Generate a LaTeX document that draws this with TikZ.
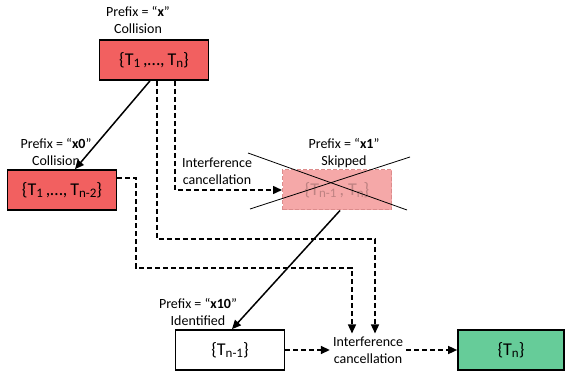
\documentclass[tikz,border=0pt]{standalone}
\usepackage{fontspec}
\setmainfont{Carlito}
\usetikzlibrary{arrows.meta,calc}
\definecolor{boxred}{RGB}{242,96,96}
\definecolor{boxgreen}{RGB}{102,204,153}
\definecolor{skipfill}{RGB}{245,168,168}
\definecolor{skipdraw}{RGB}{220,140,140}
\definecolor{skiptext}{RGB}{190,130,130}
\newcommand{\ssub}[1]{\raisebox{-2.5pt}{\fontsize{13}{13}\selectfont #1}}
\begin{document}
\begin{tikzpicture}[x=1pt,y=-1pt,
  box/.style={draw=black, line width=1.7pt, minimum width=109pt, minimum height=40pt, inner sep=0pt, font=\fontsize{18}{20}\selectfont},
  lbl/.style={align=center, inner sep=0pt, font=\fontsize{14}{17}\selectfont},
  arr/.style={-{Triangle[length=9pt,width=8pt]}, line width=1.5pt},
  darr/.style={arr, dash pattern=on 5pt off 3pt},
  xline/.style={line width=0.8pt}]
\useasboundingbox (0,0) rectangle (565,374);
\node[box, fill=boxred] (top) at (154,60) {\{T\ssub{1}\,,…,\,T\ssub{n}\}};
\node[box, fill=boxred] (left) at (62,190) {\{T\ssub{1}\,,…,\,T\ssub{n-2}\}};
\node[box, fill=skipfill, draw=skipdraw, line width=1pt, dash pattern=on 4pt off 2pt, text=skiptext] (skip) at (337,190) {\{T\ssub{n-1}\,, T\ssub{n}\}};
\node[box, fill=white] (bot) at (230,350) {\{T\ssub{n-1}\}};
\node[box, fill=boxgreen, minimum width=106pt] (green) at (511,350) {\{T\ssub{n}\}};
\node[lbl] (ltop) at (138,20) {Prefix = “\textbf{x}”\\Collision};
\node[lbl] (lleft) at (56,152) {Prefix = “\textbf{x0}”\\Collision};
\node[lbl] (lskip) at (344,153) {Prefix = “\textbf{x1}”\\Skipped};
\node[lbl] (lbot) at (198,312) {Prefix = “\textbf{x10}”\\Identified};
\node[lbl] (icm) at (217,171) {Interference\\cancellation};
\node[lbl, inner sep=3pt] (ic) at (368,350) {Interference\\cancellation};
\coordinate (xa1) at (248,153);
\coordinate (xa2) at (407,210);
\coordinate (xb1) at (250,209);
\coordinate (xb2) at (410,157);
\draw[xline] (xa1) -- (xa2);
\draw[xline] (xb1) -- (xb2);
\coordinate (h1) at (0,239);
\coordinate (h2) at (0,268);
\coordinate (v3) at (136,0);
\draw[arr] ([xshift=-4pt]top.south) -- ([xshift=13pt]left.north);
\draw[darr] ([xshift=21pt]top.south) |- (skip.west);
\draw[darr] ([xshift=3pt]top.south) -- ([xshift=3pt]top.south |- h1) -| ([xshift=7pt]ic.north);
\draw[darr] ([yshift=12pt]left.east) -- ([yshift=12pt]left.east -| v3) -- (v3 |- h2) -| ([xshift=-16pt]ic.north);
\draw[arr] ([xshift=3pt]skip.south) -- ([xshift=2pt]bot.north);
\draw[darr] (bot.east) -- (ic.west);
\draw[darr] (ic.east) -- (green.west);
\end{tikzpicture}
\end{document}
